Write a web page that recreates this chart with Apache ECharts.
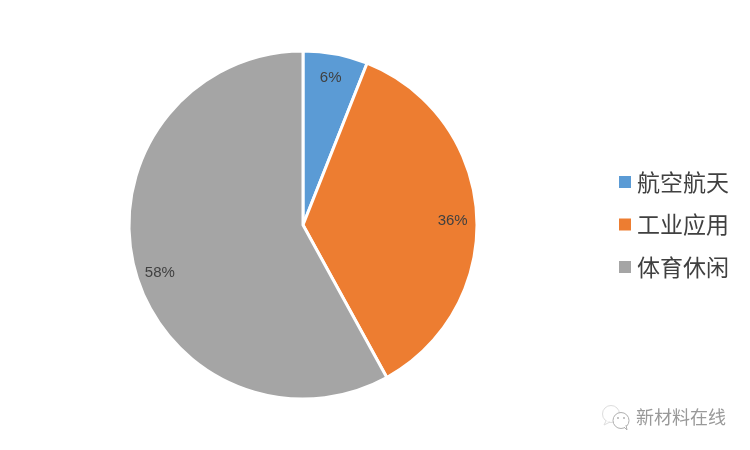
<!DOCTYPE html>
<html><head><meta charset="utf-8">
<style>html,body{margin:0;padding:0;background:#fff}#c{width:750px;height:450px}</style>
<script src="https://cdn.jsdelivr.net/npm/echarts@6/dist/echarts.min.js"></script>
</head><body><div id="c"></div>
<script>
const categories = ['航空航天','工业应用','体育休闲'];
const values = [6,36,58];
const colors = ['#5B9BD5','#ED7D31','#A5A5A5'];
const watermark = '新材料在线';
const chart = echarts.init(document.getElementById('c'),null,{renderer:'canvas'});
const pieData = categories.map((n,i)=>({name:n,value:values[i]}));
const nudge = [[-1,3],[-3,5],[5,10]];
chart.setOption({
  animation:false,
  backgroundColor:'#fff',
  color:colors,
  legend:{orient:'vertical',left:617,top:170,padding:0,itemWidth:14,itemHeight:14,itemGap:18.5,icon:'rect',
    textStyle:{fontFamily:'Noto Sans CJK SC',fontSize:23,lineHeight:24,color:'#404040'},data:categories},
  graphic:[
    {type:'text',left:636,top:408,style:{text:watermark,font:'18px "Noto Sans CJK SC"',fill:'#999'}},
    {type:'circle',shape:{cx:611,cy:414,r:8.5},style:{fill:'#fff',stroke:'#ddd',lineWidth:1}},
    {type:'polyline',shape:{points:[[606,421],[604,425],[610,422]]},style:{fill:'#fff',stroke:'#ddd',lineWidth:1}},
    {type:'circle',shape:{cx:621,cy:420.5,r:8},style:{fill:'#fff',stroke:'#b0b0b0',lineWidth:1}},
    {type:'polyline',shape:{points:[[624,427],[627,430],[626,425]]},style:{fill:'#fff',stroke:'#b0b0b0',lineWidth:1}},
    {type:'circle',shape:{cx:618,cy:418,r:0.9},style:{fill:'#aaa'}},
    {type:'circle',shape:{cx:624,cy:418,r:0.9},style:{fill:'#aaa'}}
  ],
  series:[
    {type:'pie',center:[303,225],radius:[0,174],startAngle:90,clockwise:true,
     itemStyle:{borderColor:'#fff',borderWidth:3},
     label:{show:false},labelLine:{show:false},data:pieData},
    {type:'pie',center:[303,225],radius:[126,174],startAngle:90,clockwise:true,silent:true,
     itemStyle:{color:'transparent',borderWidth:0},
     label:{position:'inside',formatter:'{d}%',fontFamily:'Liberation Sans',fontSize:15,color:'#404040'},
     labelLayout:p=>({dx:nudge[p.dataIndex][0],dy:nudge[p.dataIndex][1]}),
     labelLine:{show:false},data:pieData}
  ]
});
</script></body></html>
